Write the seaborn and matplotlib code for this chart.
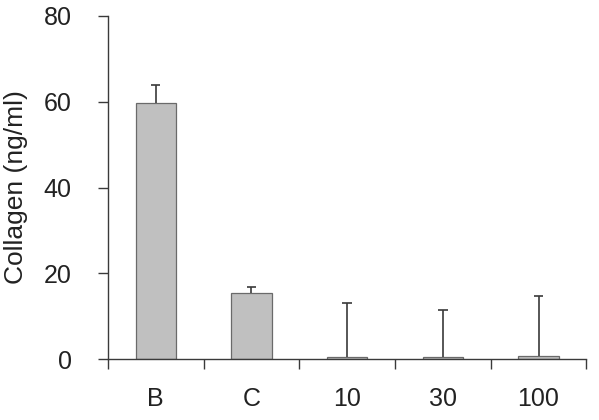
import numpy as np
import pandas as pd
import matplotlib
matplotlib.use("Agg")
import matplotlib.pyplot as plt
import seaborn as sns
from matplotlib.ticker import FixedLocator

# Valores
grupos = ["B", "C", "10", "30", "100"]
colageno = [59.7, 15.3, 0.6, 0.6, 0.8]
erro_sup = [4.2, 1.6, 12.4, 10.8, 13.9]

df = pd.DataFrame({"grupo": grupos, "colageno": colageno})

sns.set_style("white")
plt.rcParams["font.family"] = ["Liberation Sans", "DejaVu Sans"]

cinza_linha = "#3a3a3a"

fig = plt.figure(figsize=(5.99, 4.2), dpi=100)
ax = fig.add_axes([0.180, 0.145, 0.799, 0.817])

sns.barplot(data=df, x="grupo", y="colageno", color="#c0c0c0",
            width=0.42, edgecolor="#6a6a6a", linewidth=0.9,
            saturation=1, ax=ax)

# barras de erro só para cima (sem tampa embaixo)
x = np.arange(len(grupos))
topo = np.array(colageno) + np.array(erro_sup)
ax.vlines(x, colageno, topo, color=cinza_linha, linewidth=1.2, zorder=3)
ax.hlines(topo, x - 0.05, x + 0.05, color=cinza_linha, linewidth=1.2, zorder=3)

ax.set_xlim(-0.5, len(grupos) - 0.5)
ax.set_ylim(0, 80)
ax.set_yticks([0, 20, 40, 60, 80])
ax.set_xlabel("")
ax.set_ylabel("Collagen (ng/ml)", fontsize=19, color="#222222", labelpad=11)

# ticks do eixo x entre as categorias
ax.xaxis.set_minor_locator(FixedLocator(np.arange(-0.5, len(grupos) - 0.4, 1)))
ax.tick_params(axis="x", which="major", length=0, labelsize=18,
               pad=20, colors="#222222", bottom=True)
ax.tick_params(axis="x", which="minor", length=7, width=1,
               color=cinza_linha, direction="out", bottom=True)
ax.tick_params(axis="y", length=7, width=1, color=cinza_linha,
               labelsize=18, labelcolor="#222222", pad=19, left=True)

for lado in ["top", "right"]:
    ax.spines[lado].set_visible(False)
for lado in ["left", "bottom"]:
    ax.spines[lado].set_color(cinza_linha)
    ax.spines[lado].set_linewidth(1)

fig.savefig("out.png", dpi=100)
